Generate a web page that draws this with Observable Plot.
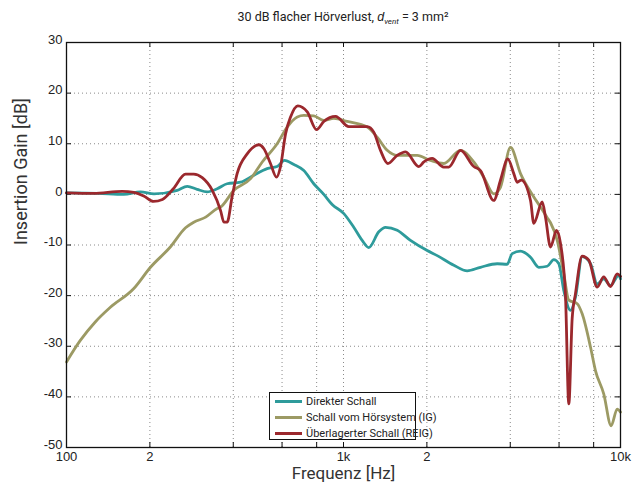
<!DOCTYPE html>
<html>
<head>
<meta charset="utf-8">
<script src="https://cdn.jsdelivr.net/npm/d3@7"></script>
<script src="https://cdn.jsdelivr.net/npm/@observablehq/plot@0.6"></script>
<style>
  body { margin: 0; background: #fff; }
  #wrap { position: relative; width: 638px; height: 483px; background: #fff; font-family: Roboto, "Liberation Sans", sans-serif; color: #222; }
  #wrap svg { position: absolute; left: 0; top: 0; }
  #title { position: absolute; left: 0; width: 686px; top: 9px; text-align: center; font-size: 12.5px; white-space: nowrap; }
  #title i { font-family: "Liberation Sans", sans-serif; }
  #title sub { font-size: 8px; vertical-align: -3px; font-style: italic; }
  #legend { position: absolute; left: 269px; top: 392px; width: 147px; height: 48px; border: 1px solid #111; background: #fff; box-sizing: border-box; font-size: 11px; }
  .row { position: absolute; left: 5px; height: 14px; display: flex; align-items: center; white-space: nowrap; }
  .row span.sw { display: inline-block; width: 27px; height: 3px; margin-right: 4px; }
</style>
</head>
<body>
<div id="wrap">
  <div id="title">30 dB flacher Hörverlust, <i>d</i><sub>vent</sub> = 3 mm²</div>
</div>
<script>
// ---- data ----
const seriesNames = ["Direkter Schall", "Schall vom Hörsystem (IG)", "Überlagerter Schall (REIG)"];
const seriesColors = ["#2E9B9B", "#9C9A64", "#9B282D"];

const directFreq = [100,130,161,185,207,251,273,296,322,350,380,425,475,530,576,612,662,719,781,849,910,1003,1089,1168,1234,1341,1418,1563,1745,2005,2180,2502,2796,3123,3588,3899,4064,4355,4733,5071,5438,5743,5990,6242,6600,6878,7272,7795,8240,8700,9200,9860,10000];
const directGain = [0.3,0.2,0.0,0.5,0.1,0.8,1.6,1.0,0.5,1.1,2.1,2.4,3.8,5.1,5.5,6.7,5.9,4.7,2.1,0.0,-2.0,-3.8,-6.5,-9.1,-10.5,-7.4,-6.5,-7.1,-9.1,-11.1,-12.1,-14.0,-15.1,-14.4,-13.7,-13.8,-11.7,-11.2,-12.4,-14.4,-14.2,-12.9,-13.7,-19.0,-22.9,-20.3,-12.3,-13.7,-17.7,-16.7,-18.0,-16.0,-16.7];

const igFreq = [100,112,127,144,175,201,237,269,288,318,350,360,402,462,509,576,626,681,719,781,849,923,1031,1218,1323,1438,1563,1845,2061,2300,2645,2954,3210,3487,3687,4008,4355,4864,5143,5438,5590,5910,6242,6507,6977,7272,7795,8120,8700,9250,9730,10000];
const igGain = [-33.1,-28.9,-25.2,-22.3,-18.6,-14.4,-10.4,-6.6,-5.5,-4.5,-2.8,-2.5,0.8,3.1,6.4,10.0,13.3,15.3,15.6,15.5,14.6,15.0,14.4,13.3,11.3,8.7,7.7,7.7,6.7,6.1,8.7,6.4,3.4,0.1,1.4,9.3,4.1,-0.5,-2.5,-4.6,-5.6,-9.1,-15.7,-20.9,-21.6,-23.6,-30.2,-34.8,-39.4,-45.7,-42.4,-43];

const reigFreq = [100,125,159,175,190,206,222,243,269,288,309,336,360,370,380,396,413,449,495,516,545,573,592,618,644,684,740,799,849,936,1045,1218,1286,1360,1445,1563,1675,1870,1950,2090,2300,2400,2645,2954,3123,3487,3687,3919,4119,4237,4380,4733,4864,5216,5360,5590,5875,6073,6330,6507,6692,6878,7272,7683,8240,8700,9200,9730,10000];
const reigGain = [0.3,0.2,0.6,0.4,-0.3,-1.4,-1.0,1.1,4.0,4.0,3.3,0.8,-3.2,-5.5,-5.5,-0.5,4.1,8.0,9.8,9.0,6.1,3.4,5.4,12.0,15.3,17.5,16.3,12.8,14.4,15.4,13.4,13.4,12.3,8.7,6.1,7.7,8.4,5.5,6.4,7.1,5.4,5.4,8.7,5.5,4.7,-1.2,2.8,7.0,4.1,2.4,2.8,-1.2,-5.7,-1.5,-4.5,-10.4,-7.1,-9.7,-20,-41.4,-24.5,-19.6,-12.2,-13.0,-18.3,-16.3,-18.2,-15.7,-16.2];

const xTickValues = [100,200,400,600,800,1000,2000,4000,6000,8000,10000];
const xTickLabels = ["100","2","4","6","8","1k","2","4","6","8","10k"];
const yTickValues = [-50,-40,-30,-20,-10,0,10,20,30];

const xLabel = "Frequenz [Hz]";
const yLabel = "Insertion Gain [dB]";

// ---- build ----
const toRows = (fs, gs) => fs.map((f, i) => ({f, g: gs[i]}));
const series = [toRows(directFreq, directGain), toRows(igFreq, igGain), toRows(reigFreq, reigGain)];
const innerX = xTickValues.slice(1, -1);
const innerY = yTickValues.slice(1, -1);
const W = 638, H = 483, mT = 42, mB = 36, mL = 66, mR = 18;
const pw = W - mL - mR, ph = H - mT - mB;

const chart = Plot.plot({
  width: W, height: H,
  marginTop: mT, marginBottom: mB, marginLeft: mL, marginRight: mR,
  style: {fontFamily: '"Liberation Sans", Arial, sans-serif', fontSize: "13px", color: "#222", background: "transparent", overflow: "visible"},
  x: {type: "log", domain: [100, 10000], label: null},
  y: {domain: [-50, 30], label: null},
  marks: [
    Plot.gridX(innerX, {stroke: "#8a8a8a", strokeOpacity: 1, strokeDasharray: "1,3"}),
    Plot.gridY(innerY, {stroke: "#8a8a8a", strokeOpacity: 1, strokeDasharray: "1,3"}),
    Plot.tickX(innerX, {x: d => d, insetTop: ph - 5, stroke: "#111"}),
    Plot.tickX(innerX, {x: d => d, insetBottom: ph - 5, stroke: "#111"}),
    Plot.tickY(innerY, {y: d => d, insetRight: pw - 5, stroke: "#111"}),
    Plot.tickY(innerY, {y: d => d, insetLeft: pw - 5, stroke: "#111"}),
    Plot.axisX(xTickValues, {anchor: "bottom", tickSize: 0, tickPadding: 4, tickFormat: (d) => xTickLabels[xTickValues.indexOf(d)], fontSize: 13}),
    Plot.axisY(yTickValues, {anchor: "left", tickSize: 0, tickPadding: 4, dy: -3, tickFormat: d => String(d), fontSize: 13}),
    ...series.map((rows, k) => Plot.line(rows, {x: "f", y: "g", stroke: seriesColors[k], strokeWidth: 2.8, curve: "monotone-x"})),
    Plot.frame({stroke: "#111", strokeWidth: 1.3}),
    Plot.text([xLabel], {frameAnchor: "bottom", dy: 26, lineAnchor: "middle", fontSize: 17, fontFamily: "Roboto, sans-serif", fill: "#333"}),
    Plot.text([yLabel], {frameAnchor: "left", dx: -45, rotate: -90, lineAnchor: "middle", fontSize: 18, fontFamily: "Roboto, sans-serif", fill: "#333"})
  ]
});

const wrap = document.getElementById("wrap");
wrap.insertBefore(chart, wrap.firstChild);

// legend
const leg = document.createElement("div");
leg.id = "legend";
seriesNames.forEach((name, k) => {
  const row = document.createElement("div");
  row.className = "row";
  row.style.top = (1 + k * 16) + "px";
  const sw = document.createElement("span");
  sw.className = "sw";
  sw.style.background = seriesColors[k];
  row.appendChild(sw);
  row.appendChild(document.createTextNode(name));
  leg.appendChild(row);
});
wrap.appendChild(leg);
</script>
</body>
</html>
